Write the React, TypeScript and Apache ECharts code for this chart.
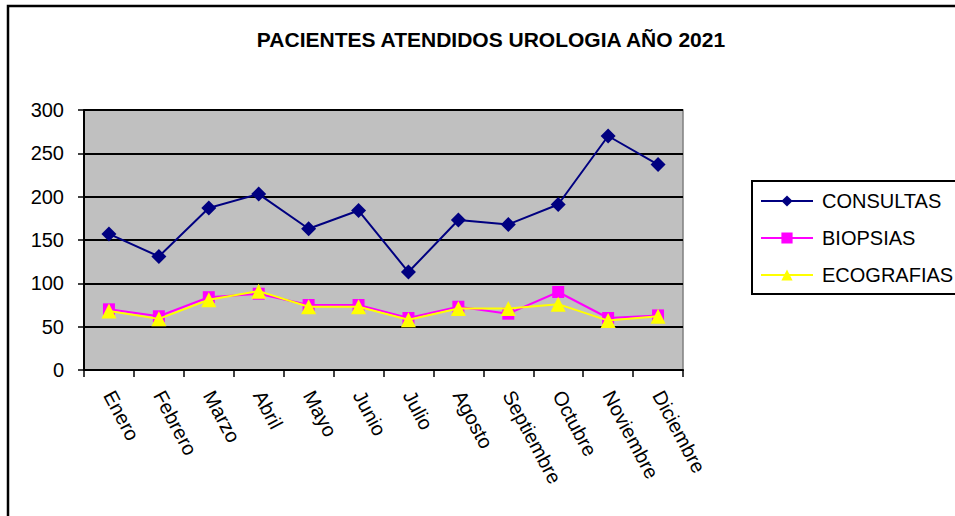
import React, { useEffect, useRef } from "react";
import * as echarts from "echarts";

const months = ["Enero", "Febrero", "Marzo", "Abril", "Mayo", "Junio", "Julio", "Agosto", "Septiembre", "Octubre", "Noviembre", "Diciembre"];
const consultas = [157, 131, 187, 203, 163, 184, 113, 173, 168, 191, 270, 237];
const biopsias = [70, 62, 84, 88, 75, 75, 60, 73, 65, 90, 60, 63];
const ecografias = [68, 59, 81, 91, 73, 73, 58, 71, 71, 76, 57, 62];
const yTicks = { min: 0, max: 300, interval: 50 };
const title = "PACIENTES ATENDIDOS UROLOGIA AÑO 2021";

const FONT = "Liberation Sans, Arial, sans-serif";

export default function App() {
  const ref = useRef<HTMLDivElement>(null);
  useEffect(() => {
    if (!ref.current) return;
    const chart = echarts.init(ref.current, undefined, { renderer: "svg" });
    chart.setOption({
      animation: false,
      backgroundColor: "#ffffff",
      title: {
        text: title,
        left: 486,
        textAlign: "center",
        top: 24,
        textStyle: { fontFamily: FONT, fontSize: 21, fontWeight: "bold", color: "#000" },
      },
      graphic: [
        {
          type: "rect",
          shape: { x: 8, y: 6, width: 1000, height: 600 },
          style: { fill: "none", stroke: "#000", lineWidth: 2.5 },
          silent: true,
          z: 100,
        },
      ],
      legend: {
        orient: "vertical",
        left: 752,
        top: 181,
        padding: [10, 20, 9, 8],
        itemGap: 17,
        itemWidth: 52,
        itemHeight: 14,
        borderColor: "#000",
        borderWidth: 2,
        backgroundColor: "#fff",
        textStyle: { fontFamily: FONT, fontSize: 20, color: "#000", padding: [0, 0, 0, 4] },
        data: ["CONSULTAS", "BIOPSIAS", "ECOGRAFIAS"],
      },
      grid: {
        left: 84,
        top: 110,
        width: 599,
        height: 260,
        show: true,
        backgroundColor: "#c0c0c0",
        borderColor: "#808080",
        borderWidth: 1.5,
      },
      xAxis: {
        type: "category",
        data: months,
        boundaryGap: true,
        axisLine: { lineStyle: { color: "#000", width: 2 } },
        axisTick: { show: true, length: 7, inside: false, lineStyle: { color: "#000", width: 1.5 } },
        axisLabel: {
          rotate: -62,
          margin: 22,
          fontFamily: FONT,
          fontSize: 20,
          color: "#000",
          interval: 0,
        },
      },
      yAxis: {
        type: "value",
        min: yTicks.min,
        max: yTicks.max,
        interval: yTicks.interval,
        axisLine: { show: true, lineStyle: { color: "#000", width: 2 } },
        axisTick: { show: true, length: 6, lineStyle: { color: "#000", width: 1.5 } },
        axisLabel: { margin: 20, fontFamily: FONT, fontSize: 20, color: "#000" },
        splitLine: { show: true, lineStyle: { color: "#000", width: 2 } },
      },
      series: [
        {
          name: "CONSULTAS",
          type: "line",
          data: consultas,
          color: "#000080",
          symbol: "diamond",
          symbolSize: 15,
          lineStyle: { width: 2, color: "#000080" },
          itemStyle: { color: "#000080" },
          z: 3,
        },
        {
          name: "BIOPSIAS",
          type: "line",
          data: biopsias,
          color: "#ff00ff",
          symbol: "rect",
          symbolSize: 12,
          lineStyle: { width: 2, color: "#ff00ff" },
          itemStyle: { color: "#ff00ff" },
          z: 4,
        },
        {
          name: "ECOGRAFIAS",
          type: "line",
          data: ecografias,
          color: "#ffff00",
          symbol: "triangle",
          symbolSize: 15,
          lineStyle: { width: 2, color: "#ffff00" },
          itemStyle: { color: "#ffff00" },
          z: 5,
        },
      ],
    });
    return () => chart.dispose();
  }, []);
  return <div ref={ref} style={{ position: "absolute", left: 0, top: 0, width: 955, height: 516 }} />;
}
